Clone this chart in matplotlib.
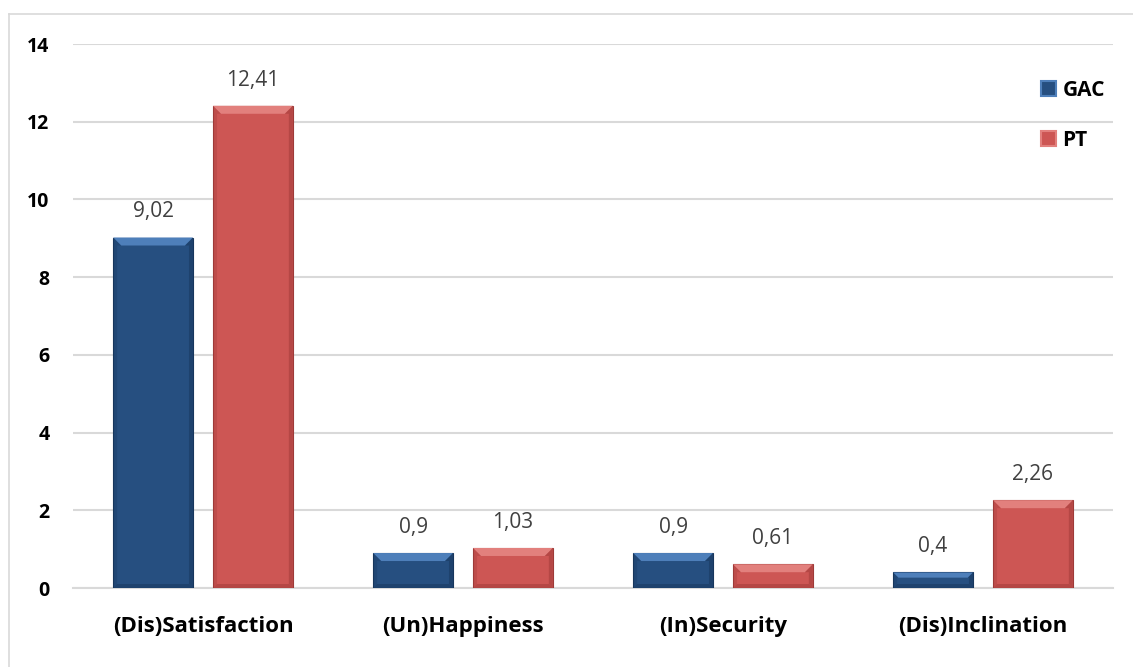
import matplotlib
matplotlib.use("Agg")
import matplotlib.pyplot as plt
from matplotlib.patches import Polygon, Patch
from matplotlib.lines import Line2D
import numpy as np

categories = ["(Dis)Satisfaction", "(Un)Happiness", "(In)Security", "(Dis)Inclination"]
gac_values = [9.02, 0.9, 0.9, 0.4]
pt_values = [12.41, 1.03, 0.61, 2.26]
gac_labels = ["9,02", "0,9", "0,9", "0,4"]
pt_labels = ["12,41", "1,03", "0,61", "2,26"]
series_names = ["GAC", "PT"]
y_ticks = [0, 2, 4, 6, 8, 10, 12, 14]

plt.rcParams["font.family"] = ["Open Sans", "DejaVu Sans"]

W, H = 1133, 667
fig = plt.figure(figsize=(W / 100, H / 100), dpi=100)
ax = fig.add_axes([73 / W, (H - 588) / H, (1113 - 73) / W, (588 - 44) / H])

# outer chart frame (top and left edges)
fig.add_artist(Line2D([9 / W, 9 / W], [0, 1 - 14 / H], transform=fig.transFigure,
                      color="#d9d9d9", lw=1.2))
fig.add_artist(Line2D([9 / W, 1], [1 - 14 / H, 1 - 14 / H], transform=fig.transFigure,
                      color="#d9d9d9", lw=1.2))

x = np.arange(len(categories))
bw = 0.307
off = bw / 2 + 0.0385

blue_body, blue_light, blue_dark = "#264f80", "#4e7fba", "#17365c"
red_body, red_light, red_dark = "#cd5654", "#e2807d", "#9e3a38"

bars_g = ax.bar(x - off, gac_values, bw, color=blue_body, zorder=3,
                edgecolor=blue_dark, linewidth=0.8)
bars_p = ax.bar(x + off, pt_values, bw, color=red_body, zorder=3,
                edgecolor=red_dark, linewidth=0.8)


def bevel(bars, light, dark):
    px_y = (588 - 44) / 14.0
    px_x = (1113 - 73) / 4.0
    for r in bars:
        x0, y0, w, h = r.get_x(), r.get_y(), r.get_width(), r.get_height()
        by = min(8 / px_y, h / 3)
        bx = by * px_y / px_x
        sx = min(bx, 4 / px_x)
        sy = sx * px_x / px_y
        x1, y1 = x0 + w, y0 + h
        top = [(x0, y1), (x1, y1), (x1 - bx, y1 - by), (x0 + bx, y1 - by)]
        bot = [(x0, y0), (x1, y0), (x1 - sx, y0 + sy), (x0 + sx, y0 + sy)]
        left = [(x0, y0), (x0, y1), (x0 + bx, y1 - by), (x0 + sx, y1 - by),
                (x0 + sx, y0 + sy)]
        right = [(x1, y0), (x1, y1), (x1 - bx, y1 - by), (x1 - sx, y1 - by),
                 (x1 - sx, y0 + sy)]
        ax.add_patch(Polygon(top, closed=True, color=light, lw=0, zorder=4))
        ax.add_patch(Polygon(bot, closed=True, color=dark, lw=0, zorder=4, alpha=0.5))
        ax.add_patch(Polygon(left, closed=True, color=dark, lw=0, zorder=4, alpha=0.3))
        ax.add_patch(Polygon(right, closed=True, color=dark, lw=0, zorder=4, alpha=0.5))


bevel(bars_g, blue_light, blue_dark)
bevel(bars_p, red_light, red_dark)

for bars, labels in ((bars_g, gac_labels), (bars_p, pt_labels)):
    for r, lab in zip(bars, labels):
        ax.annotate(lab, (r.get_x() + r.get_width() / 2, r.get_height()),
                    xytext=(0, 11), textcoords="offset points", ha="center",
                    va="bottom", fontsize=15, color="#404040")

ax.set_xlim(-0.5, len(categories) - 0.5)
ax.set_ylim(0, 14)
ax.set_yticks(y_ticks)
ax.set_yticklabels([str(t) for t in y_ticks], fontsize=14, fontweight="bold")
ax.set_xticks(x)
ax.set_xticklabels(categories, fontsize=16, fontweight="bold")
ax.tick_params(axis="both", length=0)
ax.tick_params(axis="y", pad=17)
ax.tick_params(axis="x", pad=20)
ax.yaxis.grid(True, color="#d9d9d9", lw=1.5, zorder=0)
ax.set_axisbelow(True)
for s in ("top", "right", "left"):
    ax.spines[s].set_visible(False)
ax.spines["bottom"].set_color("#d9d9d9")
ax.spines["bottom"].set_linewidth(1.5)

handles = [Patch(facecolor=blue_body, edgecolor=blue_light, lw=1.5),
           Patch(facecolor=red_body, edgecolor=red_light, lw=1.5)]
leg = fig.legend(handles, series_names, loc="upper left",
                 bbox_to_anchor=(1022 / W, 1 - 61 / H), frameon=False,
                 handlelength=0.75, handleheight=0.75, handletextpad=0.3,
                 labelspacing=1.4, prop={"weight": "bold", "size": 15})

fig.savefig("out.png", dpi=100, facecolor="white")
